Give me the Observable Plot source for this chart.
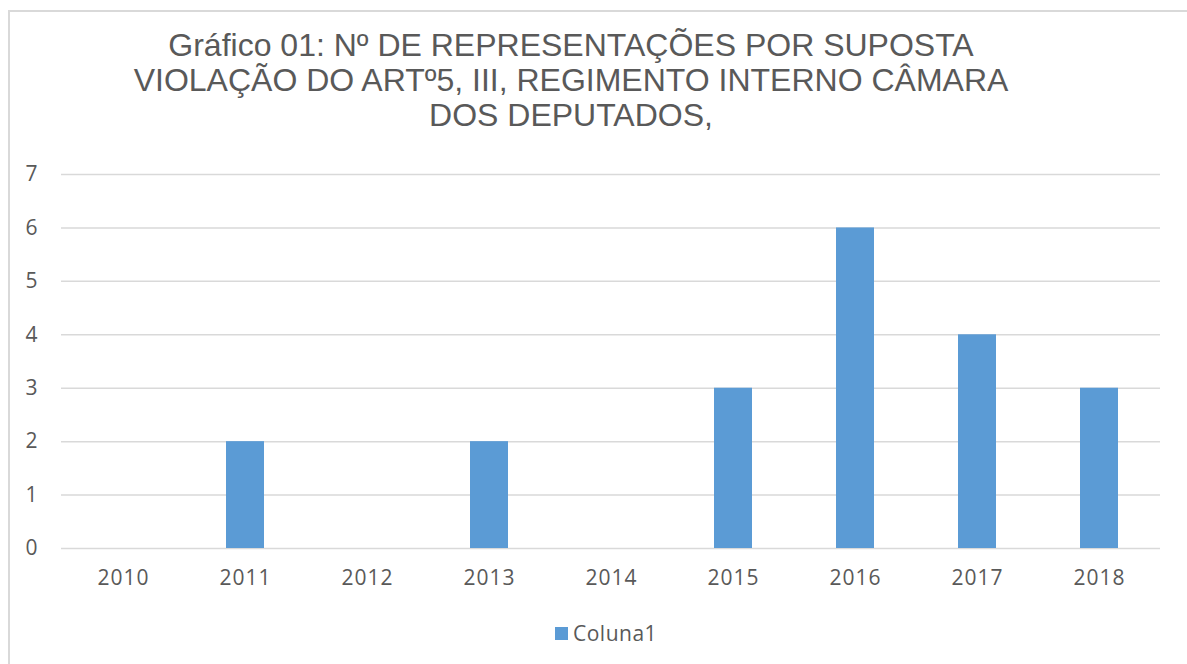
<!DOCTYPE html>
<html>
<head>
<meta charset="utf-8">
<script src="https://cdn.jsdelivr.net/npm/d3@7"></script>
<script src="https://cdn.jsdelivr.net/npm/@observablehq/plot@0.6"></script>
<style>
  html, body { margin: 0; padding: 0; background: #fff; overflow: hidden; }
  #wrap { position: relative; width: 1187px; height: 664px; overflow: hidden; background: #fff; }
  #frame { position: absolute; left: 8px; top: 10px; width: 1200px; height: 700px; border: 2px solid #d9d9d9; box-sizing: border-box; }
  #title { position: absolute; left: 0; top: 28px; width: 1142px; text-align: center;
           font-family: "Liberation Sans", Arial, sans-serif; font-size: 32px; line-height: 35px; color: #595959; }
  #chart { position: absolute; left: 0; top: 150px; }
  #legend { position: absolute; left: 555px; top: 619px; font-family: "Open Sans", sans-serif; font-size: 21px; color: #595959;
            display: flex; align-items: center; letter-spacing: 0.5px; }
  #legend .sw { width: 13px; height: 13px; background: #5b9bd5; margin-right: 5px; }
</style>
</head>
<body>
<div id="wrap">
  <div id="frame"></div>
  <div id="title">
    <div>Gráfico 01: Nº DE REPRESENTAÇÕES POR SUPOSTA</div>
    <div>VIOLAÇÃO DO ARTº5, III, REGIMENTO INTERNO CÂMARA</div>
    <div>DOS DEPUTADOS,</div>
  </div>
  <div id="chart"></div>
  <div id="legend"><span class="sw"></span><span id="legtext"></span></div>
</div>
<script>
const years = ["2010", "2011", "2012", "2013", "2014", "2015", "2016", "2017", "2018"];
const counts = [0, 2, 0, 2, 0, 3, 6, 4, 3];
const yTicks = [0, 1, 2, 3, 4, 5, 6, 7];
const seriesName = "Coluna1";

const data = years.map((y, i) => ({year: y, value: counts[i]}));

const chart = Plot.plot({
  width: 1187,
  height: 450,
  marginTop: 24,
  marginBottom: 52,
  marginLeft: 61,
  marginRight: 27,
  style: {fontFamily: "Open Sans, sans-serif", fontSize: "21px", color: "#595959", background: "transparent", letterSpacing: "1px"},
  x: {domain: years, paddingInner: 0.69, paddingOuter: 0.345, label: null},
  y: {domain: [0, 7], label: null},
  marks: [
    Plot.ruleY(yTicks, {stroke: "#d9d9d9", strokeWidth: 1.5}),
    Plot.barY(data, {x: "year", y: "value", fill: "#5b9bd5"}),
    Plot.axisX({tickSize: 0, tickPadding: 22, fill: "#595959"}),
    Plot.axisY({ticks: yTicks, tickFormat: d3.format("d"), tickSize: 0, tickPadding: 23, fill: "#595959"})
  ]
});
document.getElementById("chart").appendChild(chart);
document.getElementById("legtext").textContent = seriesName;
</script>
</body>
</html>
